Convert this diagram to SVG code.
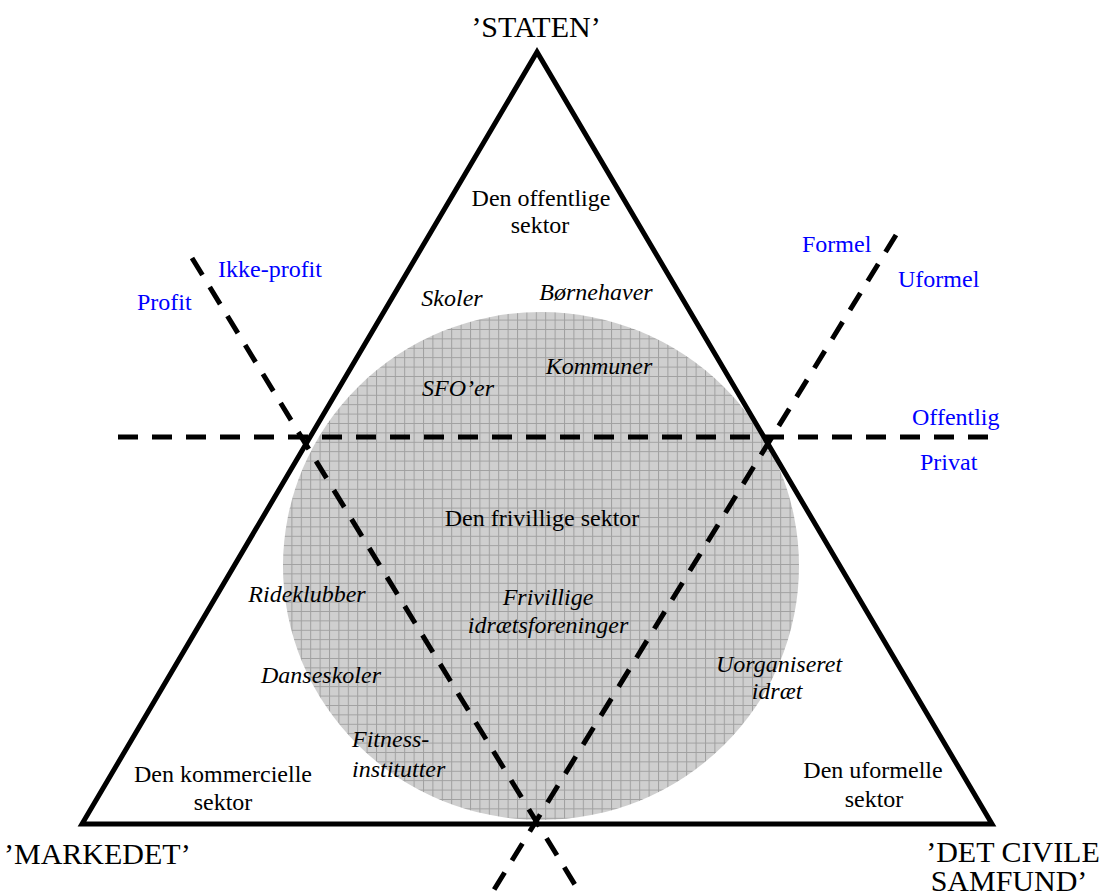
<svg xmlns="http://www.w3.org/2000/svg" width="1104" height="893" viewBox="0 0 1104 893" font-family="'Liberation Serif', 'DejaVu Serif', serif">
<style>
text{font-family:'Liberation Serif','Tinos','DejaVu Serif','Noto Serif',serif;font-size:24px;fill:#000}
.c{text-anchor:middle}
.i{font-style:italic}
.b{fill:#0000ff}
.big{font-size:30px}
.dash{stroke:#000;stroke-width:5;stroke-dasharray:20 14;fill:none}
</style>
<defs>
<pattern id="grid" width="9.4" height="9.4" patternUnits="userSpaceOnUse">
<rect width="9.4" height="9.4" fill="#cfcfcf"/>
<path d="M0 0.5H9.4M0.5 0V9.4" stroke="#a0a0a0" stroke-width="1" fill="none"/>
</pattern>
</defs>
<rect width="1104" height="893" fill="#fff"/>
<g id="circle"><ellipse cx="541" cy="566" rx="258" ry="254" fill="url(#grid)"/></g>
<g id="triangle"><polygon points="537,52 82,824 992,824" fill="none" stroke="#000" stroke-width="5" stroke-linejoin="miter"/></g>
<g id="connectors">
<line class="dash" x1="118" y1="437" x2="995" y2="437"/>
<line class="dash" x1="192" y1="258" x2="580" y2="893"/>
<line class="dash" x1="896" y1="235" x2="492" y2="893"/>
</g>
<g id="staten"><text class="c big" x="536" y="37">’STATEN’</text></g>
<g id="markedet"><text class="big" x="4" y="864">’MARKEDET’</text></g>
<g id="civile"><text class="c big" x="1013" y="862">’DET CIVILE</text><text class="c big" x="1009" y="891">SAMFUND’</text></g>
<g id="offentlig-sektor"><text class="c" x="541" y="206">Den offentlige</text><text class="c" x="540" y="233">sektor</text></g>
<g id="skoler"><text class="c i" x="452" y="306">Skoler</text></g>
<g id="bornehaver"><text class="c i" x="596" y="300">Børnehaver</text></g>
<g id="kommuner"><text class="c i" x="599" y="374">Kommuner</text></g>
<g id="sfo"><text class="c i" x="458" y="396">SFO’er</text></g>
<g id="frivillig-sektor"><text class="c" x="542" y="526">Den frivillige sektor</text></g>
<g id="foreninger"><text class="c i" x="548" y="605">Frivillige</text><text class="c i" x="548" y="633">idrætsforeninger</text></g>
<g id="rideklubber"><text class="c i" x="307" y="602">Rideklubber</text></g>
<g id="danseskoler"><text class="c i" x="321" y="683">Danseskoler</text></g>
<g id="fitness"><text class="i" x="352" y="747">Fitness-</text><text class="i" x="352" y="777">institutter</text></g>
<g id="kommerciel-sektor"><text class="c" x="223" y="782">Den kommercielle</text><text class="c" x="223" y="810">sektor</text></g>
<g id="uorganiseret"><text class="c i" x="779" y="672">Uorganiseret</text><text class="c i" x="777" y="699">idræt</text></g>
<g id="uformel-sektor"><text class="c" x="873" y="778">Den uformelle</text><text class="c" x="874" y="807">sektor</text></g>
<g id="labels">
<text class="b" x="218" y="277">Ikke-profit</text>
<text class="b" x="137" y="310">Profit</text>
<text class="b" x="802" y="252">Formel</text>
<text class="b" x="898" y="287">Uformel</text>
<text class="b" x="912" y="425">Offentlig</text>
<text class="b" x="920" y="470">Privat</text>
</g>
</svg>
